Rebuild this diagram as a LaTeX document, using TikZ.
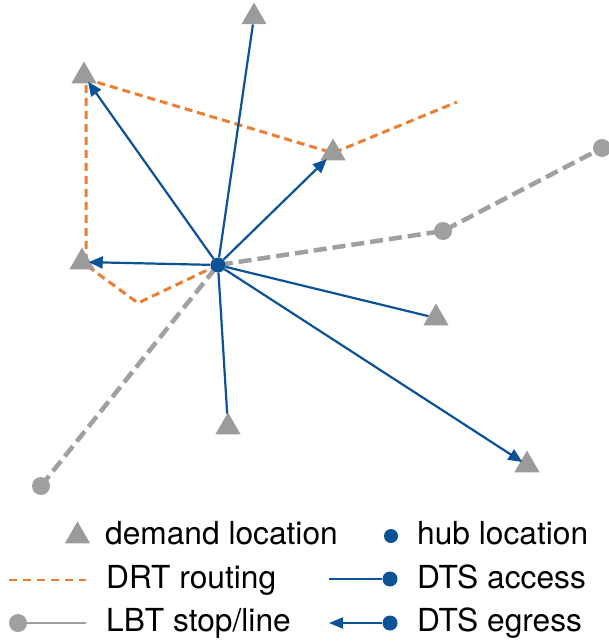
\documentclass[tikz,border=0pt]{standalone}
\usepackage{fontspec}
\setmainfont{TeX Gyre Heros}
\usetikzlibrary{shapes.geometric,arrows.meta}
\definecolor{hubblue}{RGB}{12,82,150}
\definecolor{demgray}{RGB}{155,155,155}
\definecolor{drtorange}{RGB}{237,125,49}
\definecolor{lbtgray}{RGB}{160,160,160}
\pgfdeclarelayer{background}
\pgfsetlayers{background,main}
\begin{document}
\begin{tikzpicture}[x=1pt,y=-1pt,
 demand/.style={regular polygon, regular polygon sides=3, fill=demgray, draw=none, inner sep=0pt, minimum size=29pt},
 hub/.style={circle, fill=hubblue, inner sep=0pt, minimum size=15pt},
 stop/.style={circle, fill=lbtgray, inner sep=0pt, minimum size=18pt},
 drt/.style={drtorange, line width=3pt, dash pattern=on 8pt off 5pt},
 lbt/.style={lbtgray, line width=4.5pt, dash pattern=on 13pt off 6pt},
 dts/.style={hubblue, line width=2.2pt},
 egress/.style={dts, shorten >=-2pt, -{Triangle[length=14pt,width=12pt]}},
 lab/.style={anchor=base west, inner sep=0pt, font=\fontsize{31.7}{38}\selectfont},
]
\useasboundingbox (0,0) rectangle (609,642);
% demand locations
\node[demand] (t1) at (254,17) {};
\node[demand] (t2) at (84,76) {};
\node[demand] (t3) at (333,153) {};
\node[demand] (t4) at (82,262) {};
\node[demand] (t5) at (436,318) {};
\node[demand] (t6) at (228,427) {};
\node[demand] (t7) at (527,465) {};
% LBT stops
\node[stop] (s1) at (41,486) {};
\node[stop] (s2) at (443,231) {};
\node[stop] (s3) at (602,148) {};
% hub
\node[hub] (hub) at (218,265) {};
% route corners
\coordinate (r1) at (138,303);
\coordinate (r2) at (86,265);
\coordinate (r3) at (86,79);
\coordinate (r4) at (457,102);
\begin{pgfonlayer}{background}
\draw[drt] (hub.center) -- (r1) -- (r2) -- (r3) -- (t3.center) -- (r4);
\draw[lbt] (s1.center) -- (hub.center) -- (s2.center) -- (s3.center);
\end{pgfonlayer}
% DTS access
\draw[dts] (hub) -- (t1);
\draw[dts] (hub) -- (t5);
\draw[dts] (hub) -- (t6);
% DTS egress
\draw[egress] (hub) -- (t2);
\draw[egress] (hub) -- (t3);
\draw[egress] (hub) -- (t4);
\draw[egress] (hub) -- (t7);
% legend
\node[demand] (lt) at (77.5,536) {};
\node[lab] (ldem) at (105,544) {demand location};
\coordinate (ld1) at (9,580);
\coordinate (ld2) at (86,580);
\draw[drtorange, line width=1.5pt, dash pattern=on 8pt off 6pt] (ld1) -- (ld2);
\node[lab] (ldrt) at (106,588) {DRT routing};
\node[stop] (ls) at (18,623) {};
\coordinate (ll2) at (86,623);
\draw[lbtgray, line width=2pt] (ls) -- (ll2);
\node[lab] (llbt) at (106,631) {LBT stop/line};
\node[hub, minimum size=14pt] (lh) at (391,536) {};
\node[lab] (lhub) at (417,544) {hub location};
\node[hub] (la) at (390,579) {};
\coordinate (la1) at (329,579);
\draw[hubblue, line width=2pt] (la1) -- (la);
\node[lab] (lacc) at (417,588) {DTS access};
\node[hub] (le) at (390,623) {};
\coordinate (le1) at (329,623);
\draw[hubblue, line width=2pt, -{Triangle[length=14pt,width=11pt]}] (le) -- (le1);
\node[lab] (legr) at (417,631) {DTS egress};
\end{tikzpicture}
\end{document}
